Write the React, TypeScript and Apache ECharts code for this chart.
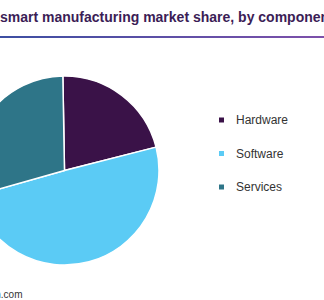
import React, { useEffect, useRef } from "react";
import * as echarts from "echarts";

const categories = ["Hardware", "Software", "Services"];
const shares = [21.3, 49.6, 29.1];
const colors = ["#3a1248", "#5bcbf5", "#2e7588"];
const titleText = "smart manufacturing market share, by component, 2023 (%)";
const sourceText = "Source: www.grandviewresearch.com";

export default function App() {
  const ref = useRef<HTMLDivElement>(null);
  useEffect(() => {
    if (!ref.current) return;
    const chart = echarts.init(ref.current, null, { renderer: "svg" });
    chart.setOption({
      animation: false,
      backgroundColor: "#ffffff",
      legend: {
        orient: "vertical",
        left: 212,
        top: 108,
        itemWidth: 7,
        itemHeight: 7,
        itemGap: 19.5,
        icon: "rect",
        data: categories,
        textStyle: {
          fontFamily: "Liberation Sans, Arial, sans-serif",
          fontSize: 12,
          lineHeight: 14,
          color: "#333333",
          padding: [0, 0, 0, 6],
        },
      },
      graphic: [
        {
          type: "text",
          x: 0,
          y: 17,
          style: {
            text: titleText,
            font: "bold 14px 'Liberation Sans', Arial, sans-serif",
            fill: "#3b1d56",
            verticalAlign: "middle",
            align: "left",
          },
        },
        {
          type: "rect",
          shape: { x: 0, y: 36, width: 324, height: 2 },
          style: {
            fill: new echarts.graphic.LinearGradient(0, 0, 1, 0, [
              { offset: 0, color: "#3d4fa2" },
              { offset: 1, color: "#7d50aa" },
            ]),
          },
        },
        {
          type: "text",
          x: 22.5,
          y: 294,
          style: {
            text: sourceText,
            font: "10px 'Liberation Sans', Arial, sans-serif",
            fill: "#333333",
            verticalAlign: "middle",
            align: "right",
          },
        },
      ],
      series: [
        {
          type: "pie",
          center: [64.5, 170.5],
          radius: 94.5,
          startAngle: 91,
          clockwise: true,
          label: { show: false },
          labelLine: { show: false },
          emphasis: { disabled: true },
          itemStyle: { borderColor: "#ffffff", borderWidth: 1.5 },
          data: categories.map((name, i) => ({
            name,
            value: shares[i],
            itemStyle: { color: colors[i] },
          })),
        },
      ],
    });
    return () => chart.dispose();
  }, []);
  return (
    <div
      ref={ref}
      style={{ position: "fixed", left: 0, top: 0, width: 324, height: 300 }}
    />
  );
}
